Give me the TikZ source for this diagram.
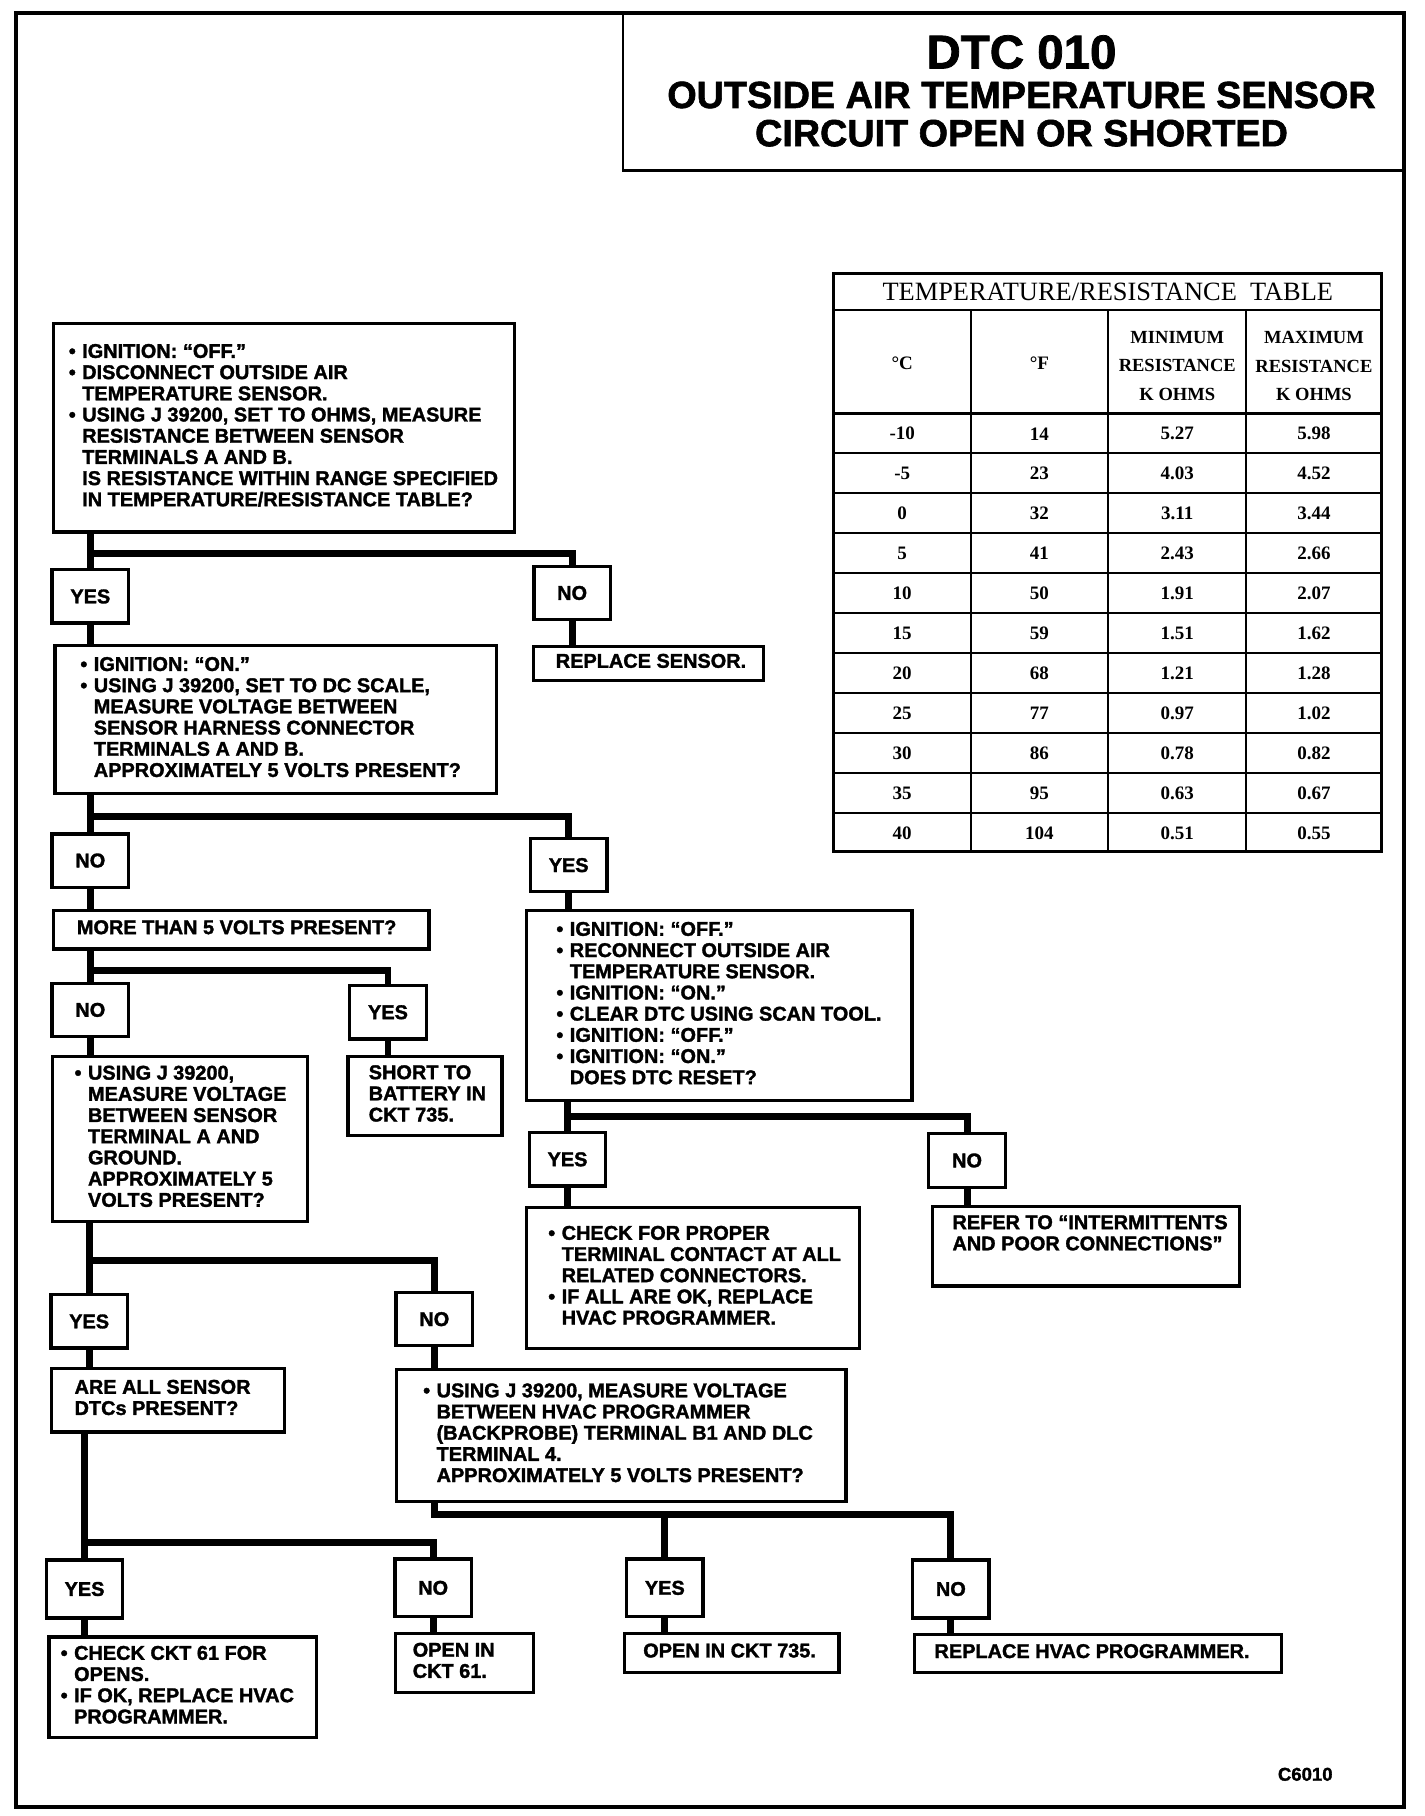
\documentclass[tikz,border=0pt]{standalone}
\usepackage{fontspec}
\setmainfont{Liberation Sans}
\newfontfamily\heavyfont{Liberation Sans Bold}[FakeBold=1.6]
\newfontfamily\tabfont{Liberation Serif}
\newlength\bulw
\setlength\bulw{5.8pt}
\newcommand\bul{\makebox[\bulw][l]{•}}
\newcommand\ind{\hspace*{\bulw}}
\newcommand\boxtxt[3]{\makebox[#1][l]{\hspace*{#2}\begin{tabular}{@{}l@{}}#3\end{tabular}}}

\tikzset{
    box/.style={draw, line width=1.4pt, inner sep=0pt, anchor=north west,
        font=\heavyfont\fontsize{8.6}{9.15}\selectfont},
    yn/.style={draw, line width=1.4pt, inner sep=0pt, minimum width=33pt, minimum height=23pt,
        font=\heavyfont\fontsize{8.6}{9.15}\selectfont},
    conn/.style={line width=3pt, line join=miter},
    cell/.style={font=\tabfont\bfseries\fontsize{8.2}{9}\selectfont, inner sep=0pt},
}

\begin{document}
\begin{tikzpicture}[x=0.5pt, y=-0.5pt]

    \useasboundingbox (0,0) rectangle (1230,1568);
    \draw[line width=1.6pt] (14,11) rectangle (1212,1560);

    \begin{scope}[]
    \draw[line width=1.2pt] (538,11) -- (538,147) -- (1212,147);
    \node[font=\heavyfont\fontsize{20.5}{22}\selectfont] (dtc) at (882,45) {DTC 010};
    \node[font=\heavyfont\fontsize{16.3}{18}\selectfont] (ttla) at (882,82) {OUTSIDE AIR TEMPERATURE SENSOR};
    \node[font=\heavyfont\fontsize{16.3}{18}\selectfont] (ttlb) at (882,115) {CIRCUIT OPEN OR SHORTED};
    \end{scope}

    \begin{scope}[]
    \draw[line width=1.2pt] (720,236) rectangle (1193,735);
    \draw[line width=0.9pt] (720,268) -- (1193,268);
    \draw[line width=0.9pt] (720,357) -- (1193,357);
    \foreach \k in {1,...,10}
        \draw[line width=0.8pt] (720,{357+34.5*\k}) -- (1193,{357+34.5*\k});
    \draw[line width=0.8pt] (838.5,268) -- (838.5,735);
    \draw[line width=0.8pt] (957,268) -- (957,735);
    \draw[line width=0.8pt] (1076,268) -- (1076,735);
    \node[font=\tabfont\fontsize{11.4}{12}\selectfont, inner sep=0pt] (ttab) at (956.5,252) {TEMPERATURE/RESISTANCE~ TABLE};
    \node[cell] (hc) at (779,314) {°C};
    \node[cell] (hf) at (897.5,314) {°F};
    \node[cell, align=center, font=\tabfont\bfseries\fontsize{8}{12.25}\selectfont] (hmin) at (1016.5,316) {MINIMUM\\RESISTANCE\\K OHMS};
    \node[cell, align=center, font=\tabfont\bfseries\fontsize{8}{12.25}\selectfont] (hmax) at (1134.5,316) {MAXIMUM\\RESISTANCE\\K OHMS};
    \foreach \tc/\tf/\rmin/\rmax [count=\i] in {-10/14/5.27/5.98, -5/23/4.03/4.52, 0/32/3.11/3.44,
        5/41/2.43/2.66, 10/50/1.91/2.07, 15/59/1.51/1.62, 20/68/1.21/1.28, 25/77/0.97/1.02,
        30/86/0.78/0.82, 35/95/0.63/0.67, 40/104/0.51/0.55} {
        \node[cell] (tc\i) at (779,{374.5+34.5*(\i-1)}) {\tc};
        \node[cell] (tf\i) at (897.5,{374.5+34.5*(\i-1)}) {\tf};
        \node[cell] (tmin\i) at (1016.5,{374.5+34.5*(\i-1)}) {\rmin};
        \node[cell] (tmax\i) at (1134.5,{374.5+34.5*(\i-1)}) {\rmax};
    }
    \end{scope}

    \node[box, minimum height=90pt] (ohms) at (45,278) {\boxtxt{199pt}{6.5pt}{%
        \bul IGNITION: “OFF.”\\
        \bul DISCONNECT OUTSIDE AIR\\
        \ind TEMPERATURE SENSOR.\\
        \bul USING J 39200, SET TO OHMS, MEASURE\\
        \ind RESISTANCE BETWEEN SENSOR\\
        \ind TERMINALS A AND B.\\
        \ind IS RESISTANCE WITHIN RANGE SPECIFIED\\
        \ind IN TEMPERATURE/RESISTANCE TABLE?}};
    \node[yn] (yesa) at (78,515) {YES};
    \node[yn] (noa) at (494,512) {NO};
    \node[box, minimum height=14.5pt] (replsens) at (459,557) {\boxtxt{99.5pt}{9.75pt}{REPLACE SENSOR.}};
    \node[box, minimum height=64pt] (dcvolt) at (46,556) {\boxtxt{190.5pt}{11pt}{%
        \bul IGNITION: “ON.”\\
        \bul USING J 39200, SET TO DC SCALE,\\
        \ind MEASURE VOLTAGE BETWEEN\\
        \ind SENSOR HARNESS CONNECTOR\\
        \ind TERMINALS A AND B.\\
        \ind APPROXIMATELY 5 VOLTS PRESENT?}};
    \node[yn] (nob) at (78,743) {NO};
    \node[yn] (yesb) at (491,747) {YES};
    \node[box, minimum height=16.5pt] (more) at (45,785) {\boxtxt{162pt}{10pt}{MORE THAN 5 VOLTS PRESENT?}};
    \node[yn] (noc) at (78,872) {NO};
    \node[yn] (yesc) at (335,874) {YES};
    \node[box, minimum height=71pt] (gnd) at (44,911) {\boxtxt{110pt}{9.5pt}{%
        \bul USING J 39200,\\
        \ind MEASURE VOLTAGE\\
        \ind BETWEEN SENSOR\\
        \ind TERMINAL A AND\\
        \ind GROUND.\\
        \ind APPROXIMATELY 5\\
        \ind VOLTS PRESENT?}};
    \node[box, minimum height=34pt] (shortbat) at (299,911) {\boxtxt{66.5pt}{9pt}{%
        SHORT TO\\
        BATTERY IN\\
        CKT 735.}};
    \node[box, minimum height=82pt] (reset) at (453,785) {\boxtxt{166.5pt}{13pt}{%
        \bul IGNITION: “OFF.”\\
        \bul RECONNECT OUTSIDE AIR\\
        \ind TEMPERATURE SENSOR.\\
        \bul IGNITION: “ON.”\\
        \bul CLEAR DTC USING SCAN TOOL.\\
        \bul IGNITION: “OFF.”\\
        \bul IGNITION: “ON.”\\
        \ind DOES DTC RESET?}};
    \node[yn] (yesd) at (490,1001) {YES};
    \node[yn] (nod) at (835,1002) {NO};
    \node[box, minimum height=61pt] (contact) at (453,1041) {\boxtxt{144pt}{9.5pt}{%
        \bul CHECK FOR PROPER\\
        \ind TERMINAL CONTACT AT ALL\\
        \ind RELATED CONNECTORS.\\
        \bul IF ALL ARE OK, REPLACE\\
        \ind HVAC PROGRAMMER.}};
    \node[box, minimum height=34.5pt] (refer) at (804,1040) {\boxtxt{132.5pt}{8.5pt}{%
        REFER TO “INTERMITTENTS\\
        AND POOR CONNECTIONS”\\
        \mbox{}}};
    \node[yn] (yese) at (77,1141) {YES};
    \node[yn] (noe) at (375,1139) {NO};
    \node[box, minimum height=27.5pt] (alldtc) at (43,1180) {\boxtxt{100.5pt}{10pt}{%
        ARE ALL SENSOR\\
        DTCs PRESENT?}};
    \node[box, minimum height=57pt] (dlc) at (341,1181) {\boxtxt{194pt}{11.5pt}{%
        \bul USING J 39200, MEASURE VOLTAGE\\
        \ind BETWEEN HVAC PROGRAMMER\\
        \ind (BACKPROBE) TERMINAL B1 AND DLC\\
        \ind TERMINAL 4.\\
        \ind APPROXIMATELY 5 VOLTS PRESENT?}};
    \node[yn, minimum height=25pt] (yesf) at (73,1372) {YES};
    \node[yn, minimum height=25pt] (nof) at (374,1371) {NO};
    \node[yn, minimum height=25pt] (yesg) at (574,1371) {YES};
    \node[yn, minimum height=25pt] (nog) at (821,1372) {NO};
    \node[box, minimum height=43.5pt] (ckt61) at (41,1412) {\boxtxt{115.5pt}{5pt}{%
        \bul CHECK CKT 61 FOR\\
        \ind OPENS.\\
        \bul IF OK, REPLACE HVAC\\
        \ind PROGRAMMER.}};
    \node[box, minimum height=25.5pt] (open61) at (340,1409) {\boxtxt{59.5pt}{7.5pt}{%
        OPEN IN\\
        CKT 61.}};
    \node[box, minimum height=17pt] (open735) at (538,1409) {\boxtxt{92.5pt}{8pt}{OPEN IN CKT 735.}};
    \node[box, minimum height=16.5pt] (replhvac) at (788,1410) {\boxtxt{158.5pt}{8.75pt}{REPLACE HVAC PROGRAMMER.}};
    \node[font=\heavyfont\fontsize{8}{9}\selectfont] (code) at (1127,1532) {C6010};

    \coordinate (ja) at (78,478);
    \draw[conn] (ohms.south -| ja) -- (ja) -| (noa.north);
    \draw[conn] (ja) -- (yesa.north);
    \draw[conn] (yesa.south) -- (yesa.south |- dcvolt.north);
    \draw[conn] (noa.south) -- (noa.south |- replsens.north);

    \coordinate (jb) at (78,705);
    \draw[conn] (dcvolt.south -| jb) -- (jb) -| (yesb.north);
    \draw[conn] (jb) -- (nob.north);
    \draw[conn] (nob.south) -- (nob.south |- more.north);
    \draw[conn] (yesb.south) -- (yesb.south |- reset.north);

    \coordinate (jc) at (78,838);
    \draw[conn] (more.south -| jc) -- (jc) -| (yesc.north);
    \draw[conn] (jc) -- (noc.north);
    \draw[conn] (noc.south) -- (noc.south |- gnd.north);
    \draw[conn] (yesc.south) -- (yesc.south |- shortbat.north);

    \coordinate (jd) at (490,964);
    \draw[conn] (reset.south -| jd) -- (jd) -| (nod.north);
    \draw[conn] (jd) -- (yesd.north);
    \draw[conn] (yesd.south) -- (yesd.south |- contact.north);
    \draw[conn] (nod.south) -- (nod.south |- refer.north);

    \coordinate (je) at (77,1088);
    \draw[conn] (gnd.south -| je) -- (je) -| (noe.north);
    \draw[conn] (je) -- (yese.north);
    \draw[conn] (yese.south) -- (yese.south |- alldtc.north);
    \draw[conn] (noe.south) -- (noe.south |- dlc.north);

    \coordinate (jf) at (73,1332);
    \draw[conn] (alldtc.south -| jf) -- (jf) -| (nof.north);
    \draw[conn] (jf) -- (yesf.north);
    \draw[conn] (yesf.south) -- (yesf.south |- ckt61.north);
    \draw[conn] (nof.south) -- (nof.south |- open61.north);

    \coordinate (jg) at (375,1308);
    \draw[conn] (dlc.south -| jg) -- (jg) -| (nog.north);
    \draw[conn] (yesg.north) -- (yesg.north |- jg);
    \draw[conn] (yesg.south) -- (yesg.south |- open735.north);
    \draw[conn] (nog.south) -- (nog.south |- replhvac.north);

\end{tikzpicture}
\end{document}
